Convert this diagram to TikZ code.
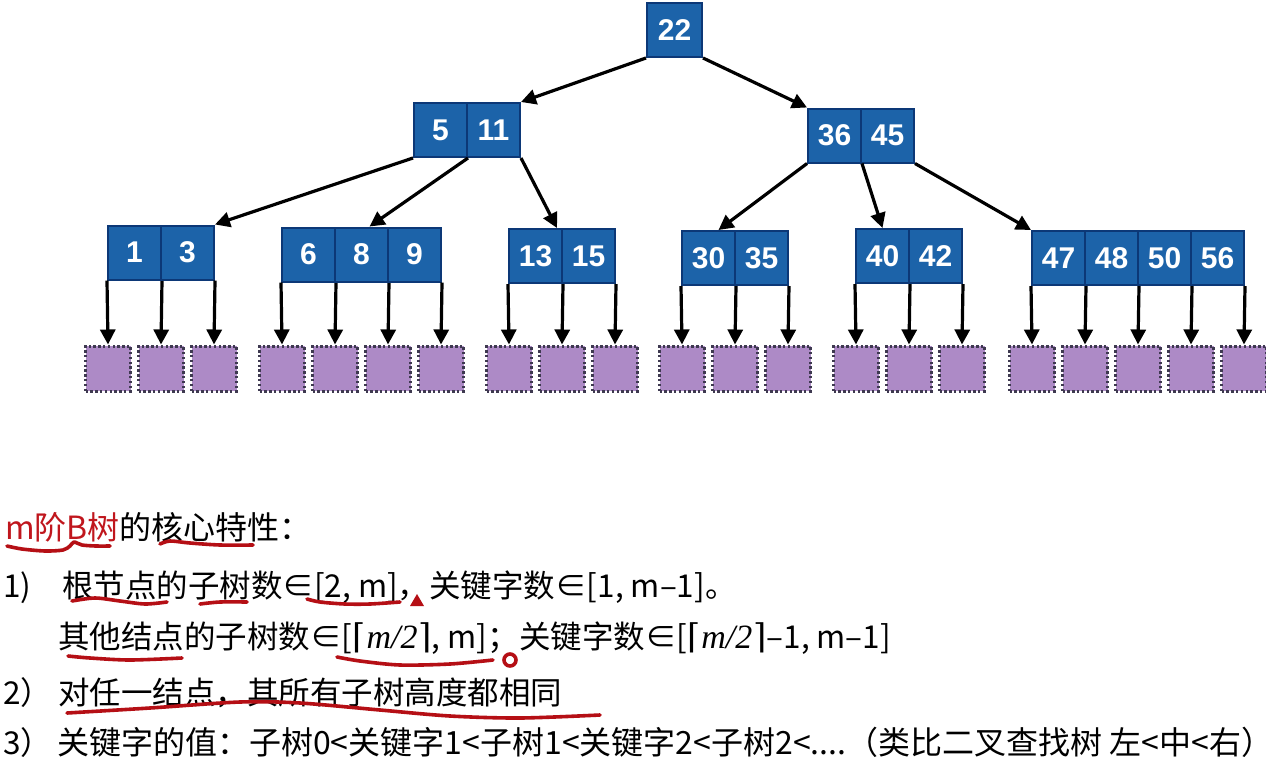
\documentclass[tikz,border=0pt]{standalone}
\usepackage{fontspec}
\setmainfont{Noto Sans CJK SC}
\newfontfamily\keyfam{Liberation Sans}
\newfontfamily\tms{Liberation Serif}
\newfontfamily\dvs{DejaVu Serif}
\usetikzlibrary{arrows.meta}
\definecolor{cellblue}{HTML}{1C63A9}
\definecolor{cellborder}{HTML}{0C3877}
\definecolor{leafpurple}{HTML}{AD8AC6}
\definecolor{leafborder}{HTML}{3E3950}
\definecolor{bred}{HTML}{C0161D}
\definecolor{inkred}{HTML}{B50F15}
\newcommand\keyfont{\keyfam\bfseries\fontsize{30}{30}\selectfont}
\newcommand\bodyfont{\fontsize{31.5}{36}\selectfont}
\newcommand\headfont{\fontsize{32}{36}\selectfont}
\newcommand\halfm{{\fontsize{34}{36}\selectfont\dvs ⌈\kern1pt{\tms\itshape m/2}\kern1pt⌉}}
\tikzset{
  cell/.style={rectangle, draw=cellborder, fill=cellblue, line width=2pt,
    minimum width=53pt, minimum height=54pt, inner sep=0pt, text=white, font=\keyfont},
  leafbox/.style={rectangle, draw=leafborder, fill=leafpurple, line width=3pt,
    dash pattern=on 2.4pt off 2.4pt, minimum size=45pt, inner sep=0pt},
  link/.style={line width=3.2pt, -{Triangle[width=15pt,length=15pt]}},
  ink/.style={draw=inkred, line width=3.6pt, line cap=round, line join=round},
  txt/.style={anchor=base west, inner sep=0pt, font=\bodyfont},
}
\begin{document}
\begin{tikzpicture}[x=1pt,y=-1pt]
\fill[white] (0,0) rectangle (1266,766);
\useasboundingbox (0,0) rectangle (1266,766);

% root and level 1
\node[cell, minimum width=55pt] (R) at (674.5,30) {22};
\foreach \k [count=\i] in {5,11}
  \node[cell] (P\i) at (414+53*\i-26.5,130) {\k};
\foreach \k [count=\i] in {36,45}
  \node[cell] (Q\i) at (808+53*\i-26.5,135.5) {\k};

% level 2 with leaves
\foreach \g/\L/\cy/\keys in {A/108/252.5/{1,3}, B/282/254.5/{6,8,9}, C/509/256/{13,15},
    D/682/258/{30,35}, E/856/256/{40,42}, F/1032/258/{47,48,50,56}}{
  \foreach \k [count=\i] in \keys {
    \node[cell] (\g\i) at (\L+53*\i-26.5,\cy) {\k};
    \node[leafbox] (\g leaf\i) at (\L+53*\i,368.5) {};
    \draw[link] (\g\i.south east) -- (\g leaf\i.north);
  }
  \node[leafbox] (\g leaf0) at (\L,368.5) {};
  \draw[link] (\g1.south west) -- (\g leaf0.north);
}

% internal links
\draw[link] (R.south west) -- (P2.north east);
\draw[link] (R.south east) -- (Q1.north west);
\draw[link] (P1.south west) -- (A2.north east);
\draw[link] (P1.south east) -- ([xshift=8pt]B2.north);
\draw[link] (P2.south east) -- ([xshift=-4pt]C2.north west);
\draw[link] (Q1.south west) -- ([xshift=10pt]D1.north);
\draw[link] (Q1.south east) -- (E1.north);
\draw[link] (Q2.south east) -- (F1.north west);

% text
\node[txt, font=\headfont] (h) at (5,539) {\textcolor{bred}{m阶B树}的核心特性：};
\node[txt] (n1) at (3,597) {1)};
\node[txt] (t1) at (62,597) {根节点的子树数∈[2, m]，关键字数∈[1, m–1]。};
\node[txt] (t1b) at (58,648) {其他结点的子树数∈[\halfm, m]；关键字数∈[\halfm–1, m–1]};
\node[txt] (n2) at (3,704) {2）};
\node[txt] (t2) at (58,704) {对任一结点，其所有子树高度都相同};
\node[txt] (n3) at (3,754) {3）};
\node[txt, font=\fontsize{32}{36}\selectfont] (t3) at (57,754) {关键字的值：子树0<关键字1<子树1<关键字2<子树2<....（类比二叉查找树 左<中<右\makebox[0.45em][l]{）}};

% red annotations
\draw[ink] plot[smooth] coordinates {(7,546) (22,549) (45,551) (63,550) (70,546) (74,542) (82,545) (96,546) (110,546)};
\draw[ink] plot[smooth] coordinates {(160,544) (170,541) (190,543) (220,545) (253,545)};
\draw[ink] plot[smooth] coordinates {(72,601) (95,598) (120,601) (145,604) (167,602)};
\draw[ink] plot[smooth] coordinates {(200,604) (220,602) (247,602)};
\draw[ink] plot[smooth] coordinates {(307,599) (320,602) (345,604) (370,604) (400,602)};
\fill[inkred] (410,606) -- (424,606) -- (417,594) -- cycle;
\draw[ink] plot[smooth] coordinates {(68,656) (90,658) (130,660) (182,658)};
\draw[ink] plot[smooth] coordinates {(337,657) (360,661) (400,665) (450,664) (493,660)};
\draw[ink] (510,660) circle (6);
\draw[ink] plot[smooth] coordinates {(67,713) (150,708) (240,702) (300,703) (380,710) (450,716) (520,718) (600,715)};
\end{tikzpicture}
\end{document}
